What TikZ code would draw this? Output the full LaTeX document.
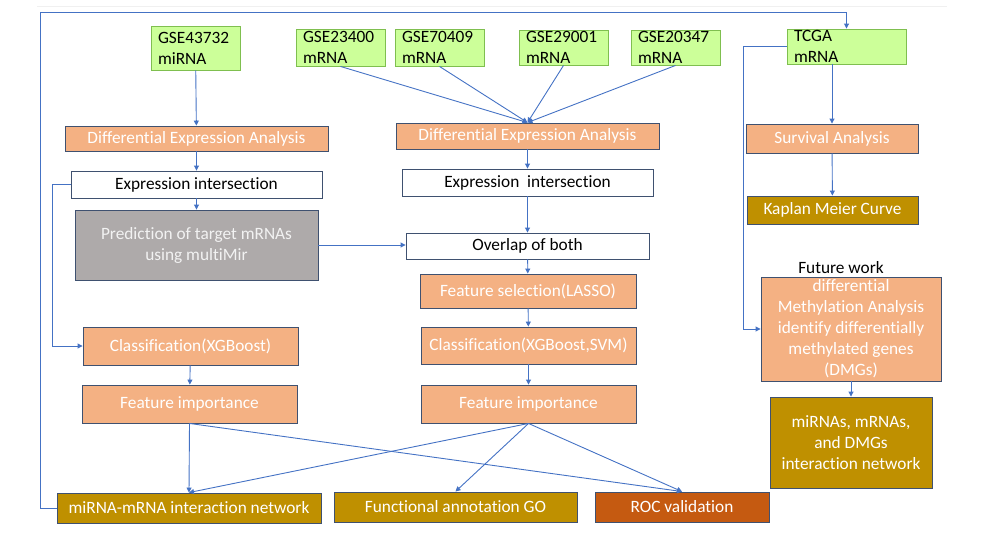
\documentclass[tikz,border=0pt]{standalone}
\usepackage{fontspec}
\setmainfont{Carlito}[Ligatures=NoCommon]
\usepackage{xcolor}
\usepackage{tikz}
\usetikzlibrary{arrows.meta,positioning,calc}
\definecolor{WFGreen}   {HTML}{CCFF99}
\definecolor{WFGreenDk} {HTML}{7FBF4F}
\definecolor{WFSalmon}  {HTML}{F4B183}
\definecolor{WFGray}    {HTML}{AEAAAA}
\definecolor{WFGrayLt}  {HTML}{F2F2F2}
\definecolor{WFGold}    {HTML}{BF9000}
\definecolor{WFRust}    {HTML}{C55A11}
\definecolor{WFEdge}    {HTML}{3F5170}
\definecolor{WFBlue}    {HTML}{4472C4}

\begin{document}
\begin{tikzpicture}[x=1pt,y=-1pt,
    every node/.style={font=\fontsize{17.3}{21}\selectfont,inner sep=0pt},
    sz/.style 2 args={minimum width=#1pt,minimum height=#2pt},
    data/.style={draw=WFGreenDk,fill=WFGreen,line width=0.9pt,text=black,align=left,inner xsep=7pt},
    stage/.style={draw=WFEdge,fill=WFSalmon,line width=0.9pt,text=white,align=center},
    plain/.style={draw=WFEdge,fill=white,line width=0.9pt,text=black},
    result/.style={draw=WFEdge,fill=WFGold,line width=0.9pt,text=white,align=center},
    link/.style={draw=WFBlue,line width=0.9pt,-{Triangle[length=5pt,width=5pt]}}]
  \useasboundingbox (0,0) rectangle (994,538);
  \draw[black!6] (37,6) -- (947,6);
  % Data sources
  \node[data,sz={89}{44},text width=75pt]  (gA)   at (195.5,48)  {GSE43732\\miRNA};
  \node[data,sz={89}{37},text width=75pt]  (gB)   at (340.5,47.5) {GSE23400\\mRNA};
  \node[data,sz={89}{37},text width=75pt]  (gC)   at (439.5,47.5) {GSE70409\\mRNA};
  \node[data,sz={89}{35},text width=75pt]  (gD)   at (563.5,47.5) {GSE29001\\mRNA};
  \node[data,sz={89}{35},text width=75pt]  (gE)   at (675.5,47.5) {GSE20347\\mRNA};
  \node[data,sz={119}{35},text width=105pt] (tcga) at (846.5,46.5) {TCGA\\mRNA};
  % miRNA branch
  \node[stage,sz={263}{25}] (deaL) at (196.5,138.5) {Differential Expression Analysis};
  \node[plain,sz={251}{27}] (eiL)  at (196.5,184.5) {Expression intersection};
  \node[draw=WFEdge,fill=WFGray,line width=0.9pt,text=WFGrayLt,align=center,sz={243}{70}] (pred) at (196.5,245)
    {Prediction of target mRNAs\\using multiMir};
  \node[stage,sz={215}{38}] (clsL) at (190.5,346) {Classification(XGBoost)};
  \node[stage,sz={215}{38}] (fiL)  at (189.5,404) {Feature importance};
  % mRNA branch
  \node[stage,sz={263}{26}] (deaM)  at (527.5,136)   {Differential Expression Analysis};
  \node[plain,sz={251}{27}] (eiM)   at (527.5,182.5) {Expression\ \ intersection};
  \node[plain,sz={243}{26}] (ovl)   at (527.5,246)   {Overlap of both};
  \node[stage,sz={216}{34}] (lasso) at (528,291)     {Feature selection(LASSO)};
  \node[stage,sz={215}{37}] (clsM)  at (528.5,345.5) {Classification(XGBoost,SVM)};
  \node[stage,sz={215}{38}] (fiM)   at (528.5,404)   {Feature importance};
  % TCGA branch
  \node[stage,sz={172}{29}]  (surv) at (832,138.5) {Survival Analysis};
  \node[result,sz={171}{28}] (km)   at (832.5,210) {Kaplan Meier Curve};
  \node[text=black]          (fut)  at (841,268)   {Future work};
  \node[stage,sz={180}{104}] (meth) at (851,329)
    {differential\\Methylation Analysis\\identify differentially\\methylated genes\\(DMGs)};
  \node[result,sz={162}{91}] (dmg)  at (851,442.5) {miRNAs, mRNAs,\\and DMGs\\interaction network};
  % Outputs
  \node[result,sz={264}{30}] (net) at (189,508)   {miRNA-mRNA interaction network};
  \node[result,sz={243}{30}] (go)  at (455.5,507) {Functional annotation GO};
  \node[result,fill=WFRust,sz={174}{30}] (roc) at (682,507) {ROC validation};
  % Connectors
  \draw[link] (gA) -- (deaL);
  \draw[link] (deaL) -- (eiL);
  \draw[link] (eiL) -- (pred);
  \draw[link] (pred.east) -- (pred.east -| ovl.west);
  \draw[link] (eiL.west) -- ++(-18,0) |- (clsL.west);
  \draw[link] (clsL) -- (fiL);
  \foreach \src in {gB,gC,gD,gE}
    \draw[link] (\src.south) -- (deaM.north);
  \draw[link] (deaM) -- (eiM);
  \draw[link] (eiM) -- (ovl);
  \draw[link] (ovl) -- (lasso);
  \draw[link] (lasso) -- (clsM);
  \draw[link] (clsM) -- (fiM);
  \draw[link] (tcga.south -| surv.north) -- (surv.north);
  \draw[link] (surv) -- (km);
  \draw[link] (tcga.west) -- ++(-43,0) |- (meth.west);
  \draw[link] (meth) -- (dmg);
  \draw[link] (fiL.south) -- (net.north);
  \draw[link] (fiL.south) -- (roc.north);
  \draw[link] (fiM.south) -- (net.north);
  \draw[link] (fiM.south) -- (go.north);
  \draw[link] (fiM.south) -- (roc.north);
  % Feedback loop to TCGA
  \coordinate (loopTop) at (40,12);
  \draw[link] (net.west) -| (loopTop) -| (tcga.north);
\end{tikzpicture}
\end{document}
